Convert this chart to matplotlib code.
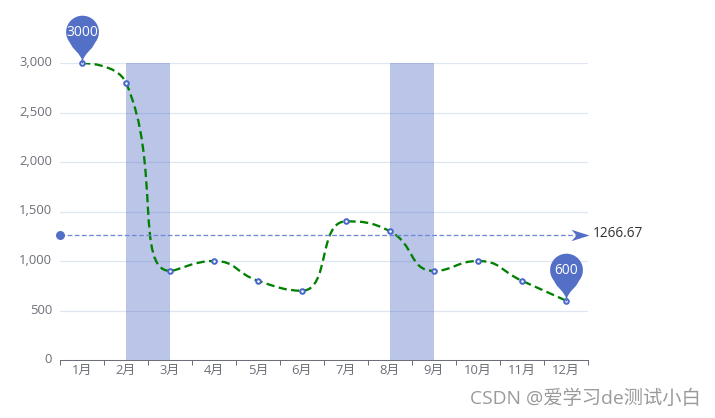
import numpy as np
import matplotlib
matplotlib.use('Agg')
import matplotlib.pyplot as plt
from matplotlib.path import Path
from matplotlib.patches import PathPatch
from matplotlib.transforms import offset_copy

plt.rcParams['font.family'] = ['Open Sans', 'Noto Sans CJK SC', 'DejaVu Sans']

months = ['1月', '2月', '3月', '4月', '5月', '6月', '7月', '8月', '9月', '10月', '11月', '12月']
values = [3000, 2800, 900, 1000, 800, 700, 1400, 1300, 900, 1000, 800, 600]
area_ranges = [('2月', '3月'), ('8月', '9月')]
y_ticks = [0, 500, 1000, 1500, 2000, 2500, 3000]
watermark = 'CSDN @爱学习de测试小白'

BLUE = '#5470C6'
AXIS = '#6E7079'
GRID = '#E0E6F1'
PX = 0.72  # points per pixel at dpi 100
FS = 13 * PX

fig = plt.figure(figsize=(7.15, 4.18), dpi=100)
ax = fig.add_axes([60 / 715, (418 - 360) / 418, 528 / 715, 297 / 418])
x = np.arange(len(months))
ax.set_xlim(-0.5, len(months) - 0.5)
ax.set_ylim(0, 3000)


def smooth_path(points, smooth=0.5):
    """ECharts-style smooth polyline, computed in pixel space."""
    p = np.asarray(points, float)
    n = len(p)
    verts = [tuple(p[0])]
    codes = [Path.MOVETO]
    cp0 = p[0].copy()
    for i in range(1, n):
        cur = p[i]
        prev = p[i - 1]
        if i == n - 1:
            cp1 = cur.copy()
            nxt_cp = cur.copy()
        else:
            nxt = p[i + 1]
            v = nxt - prev
            len_prev = np.hypot(*(cur - prev))
            len_next = np.hypot(*(nxt - cur))
            r = len_next / (len_next + len_prev)
            nxt_cp = cur + v * smooth * r
            nxt_cp = np.minimum(nxt_cp, np.maximum(nxt, cur))
            nxt_cp = np.maximum(nxt_cp, np.minimum(nxt, cur))
            d = nxt_cp - cur
            cp1 = cur - d * len_prev / len_next
            cp1 = np.minimum(cp1, np.maximum(prev, cur))
            cp1 = np.maximum(cp1, np.minimum(prev, cur))
            d = cur - cp1
            nxt_cp = cur + d * len_next / len_prev
        verts += [tuple(cp0), tuple(cp1), tuple(cur)]
        codes += [Path.CURVE4] * 3
        cp0 = nxt_cp
    return np.array(verts), codes


# grid
ax.set_yticks(y_ticks)
ax.set_yticklabels([f'{v:,}' for v in y_ticks], color=AXIS, fontsize=FS)
ax.grid(True, axis='y', color=GRID, lw=1.2 * PX, zorder=1)
ax.tick_params(axis='y', length=0, pad=8 * PX)
for lab in ax.get_yticklabels():
    lab.set_transform(offset_copy(lab.get_transform(), fig=fig, y=2, units='dots'))

# x axis
ax.set_xticks(np.arange(len(months) + 1) - 0.5)
ax.set_xticklabels([])
ax.set_xticks(x, minor=True)
ax.set_xticklabels(months, minor=True, color=AXIS, fontsize=FS)
ax.tick_params(axis='x', which='major', length=5 * PX, width=1 * PX, color=AXIS)
ax.tick_params(axis='x', which='minor', length=0, pad=4 * PX)
for s in ['top', 'right', 'left']:
    ax.spines[s].set_visible(False)
ax.spines['bottom'].set_color(AXIS)
ax.spines['bottom'].set_linewidth(1 * PX)
ax.set_axisbelow(True)

# mark areas
for a, b in area_ranges:
    ax.fill_between([months.index(a), months.index(b)], 0, max(values),
                    color=BLUE, alpha=0.4, lw=0, zorder=2)

# smooth dashed line
pix = ax.transData.transform(np.column_stack([x, values]))
verts, codes = smooth_path(pix)
verts = ax.transData.inverted().transform(verts)
ax.add_patch(PathPatch(Path(verts, codes), fill=False, edgecolor='green', lw=2.3 * PX,
                       linestyle=(0, (3.6, 1.9)), zorder=3, capstyle='butt'))
ax.plot(x, values, ls='none', marker='o', ms=4.6 * PX, mfc='white', mec='#4a68cc', mew=2 * PX,
        zorder=4, clip_on=False)

# mean mark line
mean_v = float(np.mean(values))
ln_tr = ax.get_yaxis_transform()
ax.plot([0, 0.985], [mean_v, mean_v], transform=ln_tr, color='#6f88d6', lw=1.3 * PX,
        ls=(0, (3.6, 1.9)), zorder=3, clip_on=False)
ax.plot([0], [mean_v], transform=ln_tr, marker='o', ms=9 * PX, color=BLUE, mew=0,
        zorder=5, clip_on=False)
arrow = Path([(0, 0), (-18, 5.7), (-13, 0), (-18, -5.7), (0, 0)],
             [Path.MOVETO, Path.LINETO, Path.LINETO, Path.LINETO, Path.CLOSEPOLY])
ax.plot([1.002], [mean_v], transform=ln_tr, marker=arrow, ms=36 * PX, color=BLUE, mew=0,
        zorder=5, clip_on=False)
ax.annotate(f'{mean_v:.2f}', xy=(1, mean_v), xycoords=ln_tr, xytext=(5 * PX, 1 * PX),
            textcoords='offset points', ha='left', va='center', fontsize=13.6 * PX,
            color='#333333', annotation_clip=False)

# pin markers for max/min
R, CY = 16.4, 31.4
ang = np.radians(np.linspace(-38, 218, 60))
circle = np.column_stack([R * np.cos(ang), CY + R * np.sin(ang)])
right = [(0.5, 0), (1.0, 5), (4.0, 9.7), (9.8, 16)]
left = [(-9.8, 16), (-4.0, 9.7), (-1.0, 5), (-0.5, 0)]
pin_v = right + [tuple(c) for c in circle] + left + [(0.5, 0)]
pin_c = [Path.MOVETO] + [Path.LINETO] * (len(pin_v) - 2) + [Path.CLOSEPOLY]
pin = Path(pin_v, pin_c)
max_h = np.abs(np.array(pin_v)).max()
for idx in (int(np.argmax(values)), int(np.argmin(values))):
    ax.plot([idx], [values[idx]], marker=pin, ms=2 * max_h * PX, color=BLUE, mew=0,
            zorder=6, clip_on=False)
    ax.annotate(str(values[idx]), xy=(idx, values[idx]), xytext=(0, (CY - 1) * PX), textcoords='offset points',
                ha='center', va='center', color='white', fontsize=13.8 * PX, zorder=7,
                annotation_clip=False)

# watermark
fig.text(700.5 / 715, 1 - 399 / 418, watermark, ha='right', va='center', fontsize=19.3 * PX,
         color='#9a9a9a')

fig.savefig('out.png', dpi=100)
